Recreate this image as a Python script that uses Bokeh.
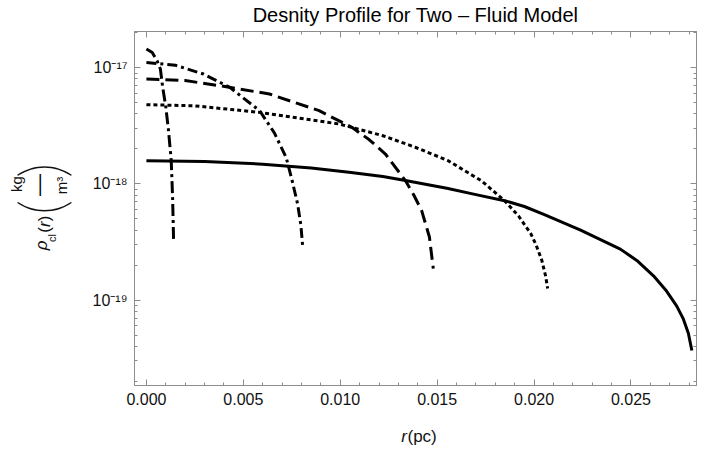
import math
from bokeh.plotting import figure
from bokeh.layouts import row, column
from bokeh.models import (LinearAxis, LogAxis, FixedTicker, CustomJSTickFormatter,
                          CustomLabelingPolicy, Label, Range1d)
from bokeh.embed import file_html
from bokeh.resources import INLINE

# ---------------- data ----------------
r_dashdot1 = [0.0, 0.0003, 0.00055, 0.00072, 0.00084, 0.00100, 0.00114, 0.00128, 0.00135, 0.0014]
rho_dashdot1 = [1.45e-17, 1.35e-17, 1.15e-17, 9.75e-18, 6.78e-18, 4.6e-18, 2.87e-18, 1.585e-18, 7.67e-19, 3.37e-19]

r_dashdot2 = [0.0, 0.0015, 0.00294, 0.0043, 0.00584, 0.0066, 0.00721, 0.0075, 0.0078, 0.00797, 0.00807]
rho_dashdot2 = [1.11e-17, 1.05e-17, 8.83e-18, 6.78e-18, 4.27e-18, 2.75e-18, 1.69e-18, 1.1e-18, 6.73e-19, 4.4e-19, 2.78e-19]

r_dashed = [0.0, 0.002, 0.00379, 0.00635, 0.00891, 0.0106, 0.0115, 0.01233, 0.01336, 0.0138, 0.0142, 0.0146, 0.0148]
rho_dashed = [8.0e-18, 7.75e-18, 7.0e-18, 5.94e-18, 4.27e-18, 3.07e-18, 2.4e-18, 1.81e-18, 1.07e-18, 8.0e-19, 5.9e-19, 3.5e-19, 1.87e-19]

r_dotted = [0.0, 0.0025, 0.00584, 0.00994, 0.0122, 0.01387, 0.01557, 0.01728, 0.01848, 0.0192, 0.01983, 0.0201, 0.0204, 0.0206, 0.0207]
rho_dotted = [4.81e-18, 4.7e-18, 4.13e-18, 3.28e-18, 2.6e-18, 2.07e-18, 1.585e-18, 1.066e-18, 7.18e-19, 5.3e-19, 3.74e-19, 3.0e-19, 2.2e-19, 1.6e-19, 1.26e-19]

r_solid = [0.0, 0.003, 0.006, 0.0085, 0.01045, 0.0122, 0.01336, 0.0155, 0.017, 0.01848, 0.0195, 0.0205, 0.0224,
           0.02445, 0.0253, 0.02616, 0.0268, 0.02736, 0.0277, 0.02796, 0.02814]
rho_solid = [1.585e-18, 1.56e-18, 1.48e-18, 1.37e-18, 1.26e-18, 1.16e-18, 1.07e-18, 9.2e-19, 8.1e-19, 7.18e-19,
             6.4e-19, 5.47e-19, 4.0e-19, 2.75e-19, 2.2e-19, 1.62e-19, 1.22e-19, 8.9e-20, 6.9e-20, 5.2e-20, 3.69e-20]

x_major_ticks = [0.0, 0.005, 0.010, 0.015, 0.020, 0.025]
x_tick_labels = ["0.000", "0.005", "0.010", "0.015", "0.020", "0.025"]
x_minor_ticks = [i / 1000 for i in range(0, 29) if i % 5 != 0]

y_major_ticks = [1e-19, 1e-18, 1e-17]
y_tick_labels = ["10\u207b\u00b9\u2079", "10\u207b\u00b9\u2078", "10\u207b\u00b9\u2077"]
y_minor_ticks = [m * 10.0 ** e for e in (-20, -19, -18, -17) for m in range(2, 10)]

title_text = "Desnity Profile for Two \u2013 Fluid Model"

FRAME = "#8c8c8c"
FONT = "Liberation Sans"
TXT = "#111111"

YLAB_W = 80
MAIN_H = 425
XLAB_H = 25
F_TOP, F_BOT = 31, 385          # frame top / bottom (page pixels)

# ---------------- main figure ----------------
p = figure(width=701 - YLAB_W, height=MAIN_H, y_axis_type="log",
           x_range=Range1d(-0.000615, 0.02838), y_range=Range1d(1.845e-20, 2.05e-17),
           output_backend="svg", toolbar_location=None, title=title_text,
           min_border_left=134 - YLAB_W, min_border_right=1,
           min_border_top=F_TOP, min_border_bottom=MAIN_H - F_BOT)
p.background_fill_color = "white"
p.border_fill_color = "white"
p.outline_line_color = FRAME
p.xgrid.visible = False
p.ygrid.visible = False

p.title.text_font = FONT
p.title.text_font_size = "20px"
p.title.text_font_style = "normal"
p.title.text_color = "#000000"
p.title.align = "center"
p.title.offset = -5
p.title.standoff = 3

x_ticker = FixedTicker(ticks=x_major_ticks, minor_ticks=x_minor_ticks)
y_ticker = FixedTicker(ticks=y_major_ticks, minor_ticks=y_minor_ticks)

x_fmt = CustomJSTickFormatter(args=dict(vals=x_major_ticks, labels=x_tick_labels), code="""
let best = 0, bd = Infinity;
for (let i = 0; i < vals.length; i++) { const d = Math.abs(vals[i] - tick); if (d < bd) { bd = d; best = i; } }
return labels[best];
""")
y_fmt = CustomJSTickFormatter(args=dict(vals=y_major_ticks, labels=y_tick_labels), code="""
let best = 0, bd = Infinity;
for (let i = 0; i < vals.length; i++) { const d = Math.abs(Math.log10(vals[i]) - Math.log10(tick)); if (d < bd) { bd = d; best = i; } }
return labels[best];
""")

no_labels = CustomLabelingPolicy(code="""
for (const i of [...indices]) { indices.unset(i) }
return indices
""")


def style_axis(ax, labels):
    ax.axis_line_color = FRAME
    ax.axis_line_width = 1
    ax.major_tick_line_color = FRAME
    ax.minor_tick_line_color = FRAME
    ax.major_tick_in = 6
    ax.major_tick_out = 0
    ax.minor_tick_in = 3
    ax.minor_tick_out = 0
    ax.axis_label = None
    if labels:
        ax.major_label_text_font = FONT
        ax.major_label_text_font_size = "16px"
        ax.major_label_text_color = TXT
        ax.major_label_standoff = 7
    else:
        ax.major_label_policy = no_labels
        ax.major_label_text_font_size = "1px"
        ax.major_label_standoff = 0


xa = p.xaxis[0]
xa.ticker = x_ticker
xa.formatter = x_fmt
style_axis(xa, True)

ya = p.yaxis[0]
ya.ticker = y_ticker
ya.formatter = y_fmt
style_axis(ya, True)

top = LinearAxis(ticker=x_ticker, formatter=x_fmt)
style_axis(top, False)
p.add_layout(top, "above")

right = LogAxis(ticker=y_ticker, formatter=y_fmt)
style_axis(right, False)
p.add_layout(right, "right")

# ---------------- curves ----------------
common = dict(line_color="black", line_width=3, line_cap="butt", line_join="round")
p.line(r_solid, rho_solid, **common)
p.line(r_dotted, rho_dotted, line_dash="4 3", **common)
p.line(r_dashed, rho_dashed, line_dash="13 6", **common)
p.line(r_dashdot2, rho_dashdot2, line_dash="10 4 3 4", **common)
p.line(r_dashdot1, rho_dashdot1, line_dash="12 4 3 4", **common)


def blank_fig(w, h, top_b=0, bot_b=0):
    f = figure(width=w, height=h, x_range=Range1d(0, w), y_range=Range1d(0, h),
               output_backend="svg", toolbar_location=None,
               min_border_left=0, min_border_right=0, min_border_top=top_b, min_border_bottom=bot_b,
               x_axis_location=None, y_axis_location=None)
    f.outline_line_color = None
    f.xgrid.visible = False
    f.ygrid.visible = False
    f.background_fill_color = "white"
    f.border_fill_color = "white"
    return f


def lab(f, text, sx, sy, size, style="normal", angle=0.0, align="center", baseline="middle", font=FONT):
    f.add_layout(Label(x=sx, y=sy, x_units="screen", y_units="screen", text=text,
                       text_font=font, text_font_size=size, text_font_style=style,
                       text_color=TXT, angle=angle, text_align=align, text_baseline=baseline))


# ---------------- y-axis label figure (left strip, frame aligned with the main frame) ----------------
yl = blank_fig(YLAB_W, MAIN_H, F_TOP, MAIN_H - F_BOT)
A = math.pi / 2


def ylab(text, px, py, size, **kw):
    lab(yl, text, px, F_BOT - py, size, angle=A, **kw)


ylab("\u03c1", 41, 245, "17px", style="italic")
ylab("cl", 51.5, 237.5, "11px")
ylab("(", 43.5, 229.3, "17px")
ylab("r", 43.5, 223.7, "17px", style="italic")
ylab(")", 43.5, 218, "17px")
ylab("(", 39, 207, "62px", font="Lato Thin, Lato Light, Liberation Sans")
ylab("kg", 16, 183.5, "15px")
ylab("\u2014", 38, 184.5, "22px")
ylab("m\u00b3", 61, 185, "15px")
ylab(")", 39, 170, "62px", font="Lato Thin, Lato Light, Liberation Sans")

# ---------------- x-axis label figure (bottom strip) ----------------
xl = blank_fig(701, XLAB_H)
lab(xl, "r", 403.5, 450 - 436, "17px", style="italic", baseline="alphabetic")
lab(xl, "(pc)", 407, 450 - 436, "17px", align="left", baseline="alphabetic")

layout = column(row(yl, p, spacing=0), xl, spacing=0)

open("out.html", "w").write(file_html(layout, INLINE))
